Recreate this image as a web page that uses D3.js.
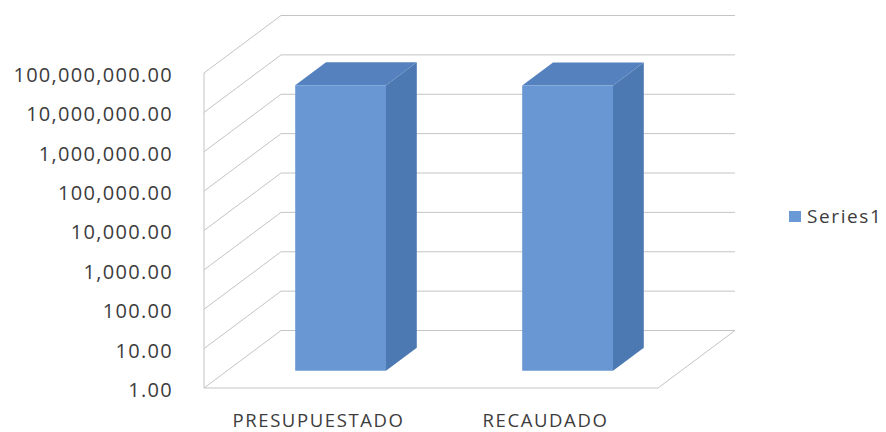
<!DOCTYPE html>
<html><head><meta charset="utf-8">
<script src="https://cdn.jsdelivr.net/npm/d3@7"></script>
<style>
html,body{margin:0;padding:0;background:#fff;}
svg{display:block;}
text{font-family:"Open Sans",sans-serif;fill:#3c3c3c;}
</style></head>
<body>
<svg id="chart" width="886" height="432"></svg>
<script>
// ---- data ----
const categories = ["PRESUPUESTADO", "RECAUDADO"];
const seriesName = "Series1";
const values = [17800000, 17600000];
const yTicks = [1, 10, 100, 1000, 10000, 100000, 1000000, 10000000, 100000000];

// ---- layout ----
const W = 886, H = 432;
const svg = d3.select("#chart");
const frontLeft = 204, frontRight = 658;
const yBottom = 388, yTop = 73;
const depth = {dx: 77, dy: 57.5};
const barZ0 = 0.30, barZ1 = 0.70, barFrac = 0.40;

const x = d3.scaleBand().domain(categories).range([frontLeft, frontRight]).padding(0);
const y = d3.scaleLog().domain([1, 1e8]).range([yBottom, yTop]);
const P = (px, py, z) => [px + z * depth.dx, py - z * depth.dy];

const grid = svg.append("g").attr("stroke", "#c4c4c4").attr("stroke-width", 1).attr("fill", "none");
const line = d3.line();

// floor
grid.append("path").attr("d", line([P(frontLeft, yBottom, 0), P(frontRight, yBottom, 0), P(frontRight, yBottom, 1)]));
// left wall front edge
grid.append("path").attr("d", line([P(frontLeft, yBottom, 0), P(frontLeft, yTop, 0)]));
// gridlines on side wall and back wall
yTicks.forEach(v => {
  const yy = y(v);
  grid.append("path").attr("d", line([P(frontLeft, yy, 0), P(frontLeft, yy, 1), P(frontRight, yy, 1)]));
});

// y axis labels
const fmt = d3.format(",.2f");
const axis = d3.axisLeft(y).tickValues(yTicks).tickFormat(fmt).tickSize(0).tickPadding(31);
const ag = svg.append("g").attr("transform", `translate(${frontLeft},2)`).call(axis);
ag.select(".domain").remove();
ag.selectAll("text").attr("font-family", "'Open Sans', sans-serif").attr("font-size", 20)
  .attr("letter-spacing", "1.3px").attr("fill", "#3a3a3a");

// bars
const bw = x.bandwidth() * barFrac;
const bars = svg.append("g");
categories.forEach((c, i) => {
  const xl = x(c) + (x.bandwidth() - bw) / 2;
  const xr = xl + bw;
  const yv = y(values[i]);
  const fBL = P(xl, yBottom, barZ0), fBR = P(xr, yBottom, barZ0),
        fTL = P(xl, yv, barZ0), fTR = P(xr, yv, barZ0),
        bBR = P(xr, yBottom, barZ1), bTR = P(xr, yv, barZ1), bTL = P(xl, yv, barZ1);
  bars.append("path").attr("d", line([fBR, bBR, bTR, fTR]) + "Z").attr("fill", "#4d79b2");
  bars.append("path").attr("d", line([fTL, fTR, bTR, bTL]) + "Z").attr("fill", "#5581bf");
  bars.append("path").attr("d", line([fBL, fBR, fTR, fTL]) + "Z").attr("fill", "#6897d3");
});

// category labels
svg.append("g").selectAll("text").data(categories).join("text")
  .attr("x", d => x(d) + x.bandwidth() / 2 + 1)
  .attr("y", 427)
  .attr("text-anchor", "middle")
  .attr("font-size", 18.5)
  .attr("letter-spacing", "1.6px")
  .attr("fill", "#3a3a3a")
  .text(d => d);

// legend
const lg = svg.append("g").attr("transform", "translate(789,211)");
lg.append("rect").attr("width", 12).attr("height", 11).attr("fill", "#6a9ad6");
lg.append("text").attr("x", 18).attr("y", 12).attr("font-size", 19).attr("letter-spacing", "1.6px")
  .attr("fill", "#3a3a3a").text(seriesName);
</script>
</body></html>
